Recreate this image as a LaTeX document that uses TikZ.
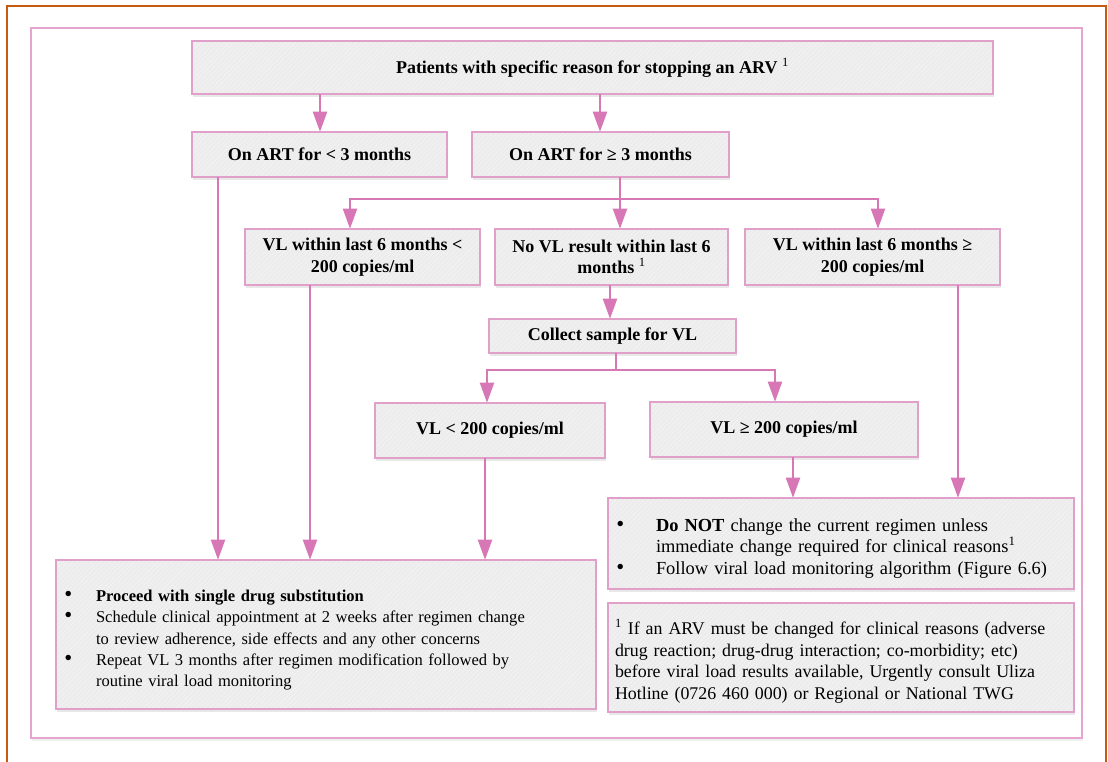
\documentclass[tikz,border=0pt]{standalone}
\usepackage{fontspec}
\setmainfont{Liberation Serif}
\usetikzlibrary{arrows.meta,shadows,patterns.meta}
\definecolor{framebrown}{HTML}{C55A11}
\definecolor{framepink}{HTML}{E4A6CE}
\definecolor{boxpink}{HTML}{E0A0CA}
\definecolor{linkpink}{HTML}{D877B6}
\definecolor{boxgray}{HTML}{ECECEC}
\definecolor{hatchgray}{HTML}{F3F3F3}
\newcommand{\px}{0.75pt}
% bullet set in a box of the given width
\newcommand{\blt}[1]{\makebox[#1][l]{\hspace*{1pt}{\fontsize{17}{10}\selectfont\textbullet}}}
% taller first line, to set the block a little lower in its box
\newcommand{\firstline}{\rule{0pt}{17pt}}
\tikzset{
  flowbox/.style={fill=boxgray,
    drop shadow={shadow xshift=1pt, shadow yshift=-2pt, opacity=0.18},
    postaction={pattern={Lines[angle=45,distance=2.5pt,line width=0.6pt]}, pattern color=hatchgray},
    postaction={draw=boxpink, line width=1.5pt},
    inner sep=0pt, align=center, font=\fontsize{13.5}{16.2}\selectfont\bfseries},
  listbox/.style={flowbox, font=\fontsize{13.4}{16.1}\selectfont, align=left},
  link/.style={draw=linkpink, line width=1.6pt},
  arr/.style={link, -{Triangle[length=15pt,width=10.5pt]}},
}
\begin{document}
\begin{tikzpicture}[x=\px, y=-\px]
\useasboundingbox (0,0) rectangle (1108,762);
% outer frames
\draw[framebrown, line width=1.6pt] (7,775) -- (7,6) -- (1106,6) -- (1106,775);
\draw[framepink, line width=1.6pt, fill=white,
  drop shadow={shadow xshift=1pt, shadow yshift=-2pt, opacity=0.12}]
  (31,28) rectangle (1082,738);

% flow boxes
\node[flowbox, minimum width=801*\px, minimum height=53*\px] (top) at (592.5,67.5)
  {Patients with specific reason for stopping an ARV \textsuperscript{\mdseries 1}};
\node[flowbox, minimum width=255*\px, minimum height=45*\px] (lt3) at (319.5,154.5) {On ART for < 3 months};
\node[flowbox, minimum width=257*\px, minimum height=45*\px] (ge3) at (600.5,154.5) {On ART for ≥ 3 months};
\node[flowbox, minimum width=235*\px, minimum height=56*\px] (vla) at (362.5,257) {VL within last 6 months <\\200 copies/ml};
\node[flowbox, minimum width=233*\px, minimum height=56*\px] (nov) at (611.5,257) {No VL result within last 6\\months \textsuperscript{\mdseries 1}};
\node[flowbox, minimum width=255*\px, minimum height=56*\px] (vlb) at (872.5,257) {VL within last 6 months ≥\\200 copies/ml};
\node[flowbox, minimum width=247*\px, minimum height=34*\px] (col) at (612.5,336) {Collect sample for VL};
\node[flowbox, minimum width=230*\px, minimum height=55*\px] (lo) at (490,430.5) {VL < 200 copies/ml};
\node[flowbox, minimum width=268*\px, minimum height=55*\px] (hi) at (784,429.5) {VL ≥ 200 copies/ml};

% outcome boxes
\node[listbox, font=\fontsize{12.4}{16.1}\selectfont,
      minimum width=540*\px, minimum height=149*\px, text width=394.5pt] (sub) at (326,634.5)
  {\firstline\blt{24.75pt}\textbf{Proceed with single drug substitution}\\
   \blt{24.75pt}Schedule clinical appointment at 2 weeks after regimen change\\
   \hspace*{24.75pt}to review adherence, side effects and any other concerns\\
   \blt{24.75pt}Repeat VL 3 months after regimen modification followed by\\
   \hspace*{24.75pt}routine viral load monitoring};
\node[listbox, font=\fontsize{13.8}{16.1}\selectfont,
      minimum width=466*\px, minimum height=91*\px, text width=339pt] (keep) at (841,543.5)
  {\firstline\blt{30.75pt}\textbf{Do NOT} change the current regimen unless\\
   \hspace*{30.75pt}immediate change required for clinical reasons\textsuperscript{1}\\
   \blt{30.75pt}Follow viral load monitoring algorithm (Figure 6.6)};
\node[listbox, minimum width=466*\px, minimum height=109*\px, text width=339pt] (note) at (841,657.5)
  {\firstline\textsuperscript{1} If an ARV must be changed for clinical reasons (adverse\\
   drug reaction; drug-drug interaction; co-morbidity; etc)\\
   before viral load results available, Urgently consult Uliza\\
   Hotline (0726 460 000) or Regional or National TWG};

% split points
\coordinate (s1) at (620,199);
\coordinate (s2) at (616,370);

% connectors
\draw[arr] (top.south -| 320,0) -- (lt3.north -| 320,0);
\draw[arr] (top.south -| 600,0) -- (ge3.north -| 600,0);
\draw[arr] (lt3.south -| 218,0) -- (sub.north -| 218,0);
\draw[link] (ge3.south -| s1) -- (s1);
\draw[arr] (s1) -| (vla.north -| 350,0);
\draw[arr] (s1) -- (nov.north -| s1);
\draw[arr] (s1) -| (vlb.north -| 878,0);
\draw[arr] (vla.south -| 310,0) -- (sub.north -| 310,0);
\draw[arr] (vlb.south -| 958,0) -- (keep.north -| 958,0);
\draw[arr] (nov.south -| 610,0) -- (col.north -| 610,0);
\draw[link] (col.south -| s2) -- (s2);
\draw[arr] (s2) -| (lo.north -| 487,0);
\draw[arr] (s2) -| (hi.north -| 775,0);
\draw[arr] (lo.south -| 485,0) -- (sub.north -| 485,0);
\draw[arr] (hi.south -| 793,0) -- (keep.north -| 793,0);
\end{tikzpicture}
\end{document}
